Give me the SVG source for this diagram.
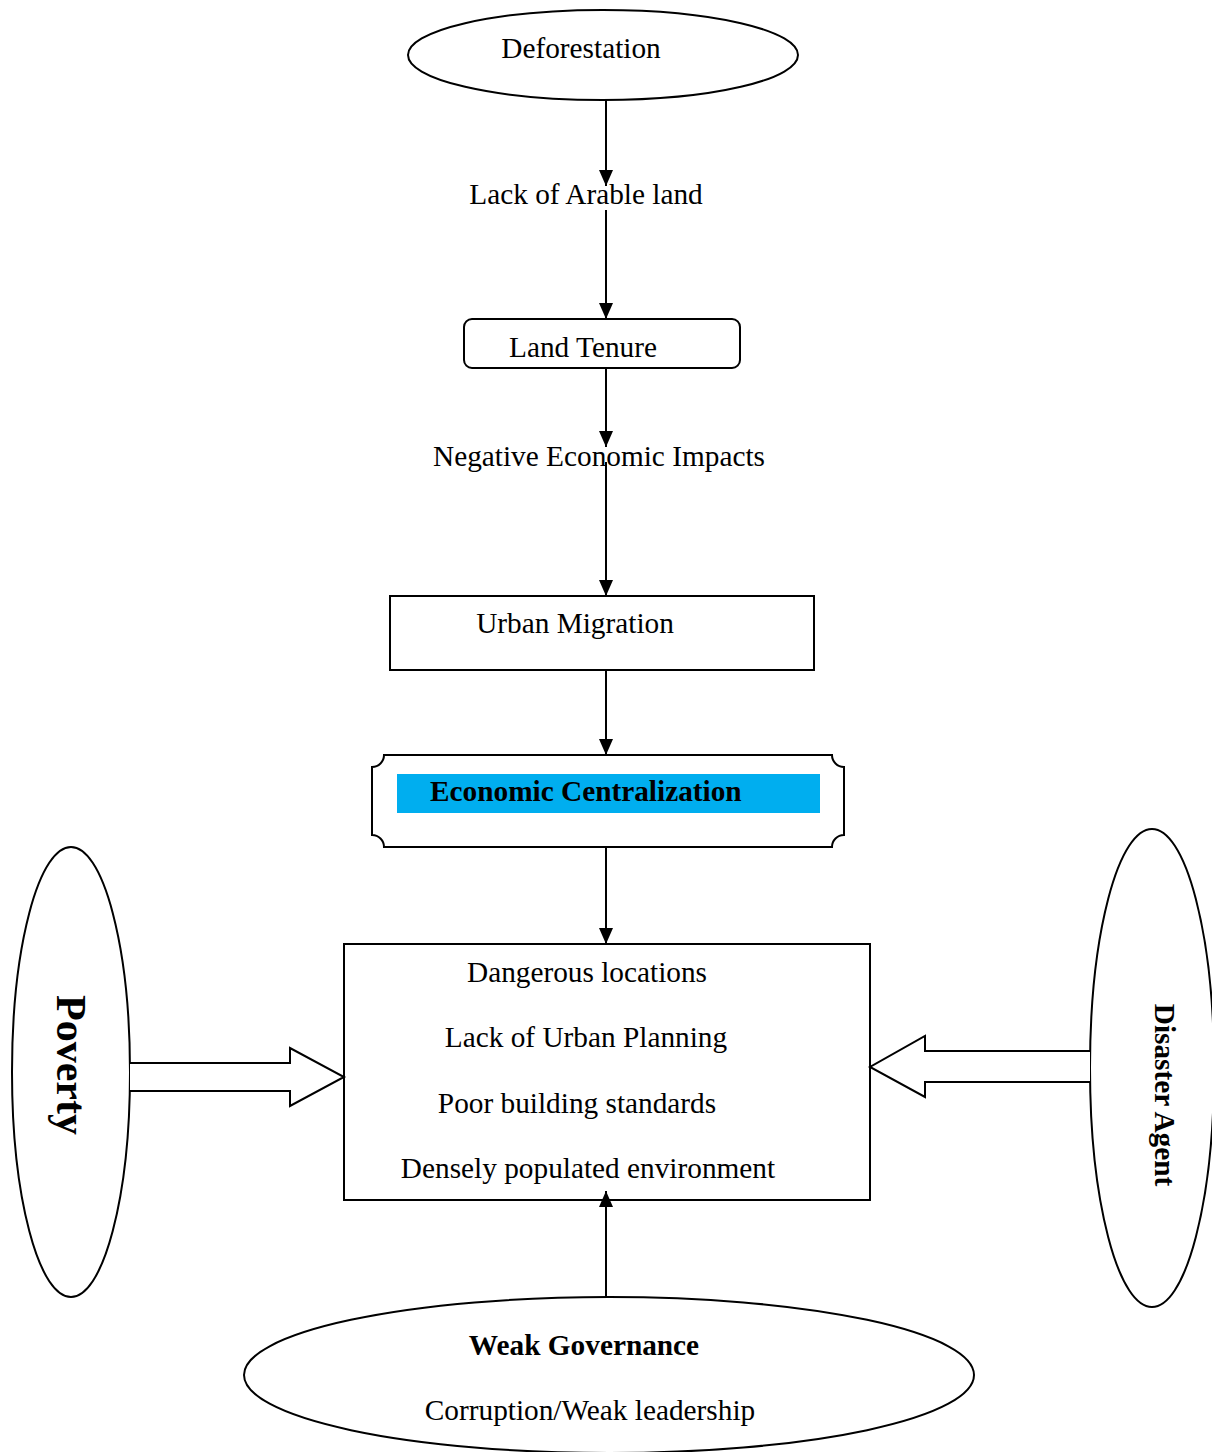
<svg xmlns="http://www.w3.org/2000/svg" width="1212" height="1452" viewBox="0 0 1212 1452">
<defs>
<marker id="ah" viewBox="0 0 16 14" refX="16" refY="7" markerWidth="16" markerHeight="14" markerUnits="userSpaceOnUse" orient="auto">
<path d="M0,0 L16,7 L0,14 Z" fill="#000"/>
</marker>
<style>
.s{fill:#fff;stroke:#000;stroke-width:2}
.t{font-family:"Liberation Serif","Times New Roman",serif;font-size:29.3px;fill:#000}
.b{font-weight:bold}
.c{stroke:#000;stroke-width:2;fill:none}
</style>
</defs>
<rect width="1212" height="1452" fill="#fff"/>

<g id="deforestation">
<ellipse class="s" cx="603" cy="55" rx="195" ry="45"/>
<text class="t" x="581" y="58" text-anchor="middle">Deforestation</text>
</g>

<g id="arable">
<text class="t" x="586" y="204" text-anchor="middle">Lack of Arable land</text>
</g>

<g id="land-tenure">
<rect class="s" x="464" y="319" width="276" height="49" rx="8"/>
<text class="t" x="583" y="357" text-anchor="middle">Land Tenure</text>
</g>

<g id="negative">
<text class="t" x="599" y="466" text-anchor="middle">Negative Economic Impacts</text>
</g>

<g id="urban-migration">
<rect class="s" x="390" y="596" width="424" height="74"/>
<text class="t" x="575" y="633" text-anchor="middle">Urban Migration</text>
</g>

<g id="economic-centralization">
<path class="s" d="M384,755 H832 A12,12 0 0 0 844,767 V835 A12,12 0 0 0 832,847 H384 A12,12 0 0 0 372,835 V767 A12,12 0 0 0 384,755 Z"/>
<rect x="397" y="774" width="423" height="39" fill="#00AEEF"/>
<text class="t b" x="430" y="801">Economic Centralization</text>
</g>

<g id="factors">
<rect class="s" x="344" y="944" width="526" height="256"/>
<text class="t" x="587" y="982" text-anchor="middle">Dangerous locations</text>
<text class="t" x="586" y="1047" text-anchor="middle">Lack of Urban Planning</text>
<text class="t" x="577" y="1113" text-anchor="middle">Poor building standards</text>
<text class="t" x="588" y="1178" text-anchor="middle">Densely populated environment</text>
</g>

<g id="poverty">
<ellipse class="s" cx="71" cy="1072" rx="59" ry="225"/>
<text class="t b" style="font-size:42px" text-anchor="middle" transform="translate(57,1065) rotate(90)">Poverty</text>
</g>

<g id="disaster-agent">
<ellipse class="s" cx="1152" cy="1068" rx="62" ry="239"/>
<text class="t b" text-anchor="middle" transform="translate(1155,1095) rotate(90)">Disaster Agent</text>
</g>

<g id="weak-governance">
<ellipse class="s" cx="609" cy="1375" rx="365" ry="78"/>
<text class="t b" x="584" y="1355" text-anchor="middle">Weak Governance</text>
<text class="t" x="590" y="1420" text-anchor="middle">Corruption/Weak leadership</text>
</g>

<g id="connectors">
<line class="c" x1="606" y1="100" x2="606" y2="186" marker-end="url(#ah)"/>
<line class="c" x1="606" y1="210" x2="606" y2="319" marker-end="url(#ah)"/>
<line class="c" x1="606" y1="368" x2="606" y2="447" marker-end="url(#ah)"/>
<line class="c" x1="606" y1="462" x2="606" y2="596" marker-end="url(#ah)"/>
<line class="c" x1="606" y1="670" x2="606" y2="755" marker-end="url(#ah)"/>
<line class="c" x1="606" y1="847" x2="606" y2="944" marker-end="url(#ah)"/>
<line class="c" x1="606" y1="1297" x2="606" y2="1191" marker-end="url(#ah)"/>
<path class="s" d="M130,1063 H290 V1048 L344,1077 L290,1106 V1091 H130"/>
<path class="s" d="M1090,1051 H925 V1036 L870,1067 L925,1097 V1082 H1090"/>
</g>
</svg>
